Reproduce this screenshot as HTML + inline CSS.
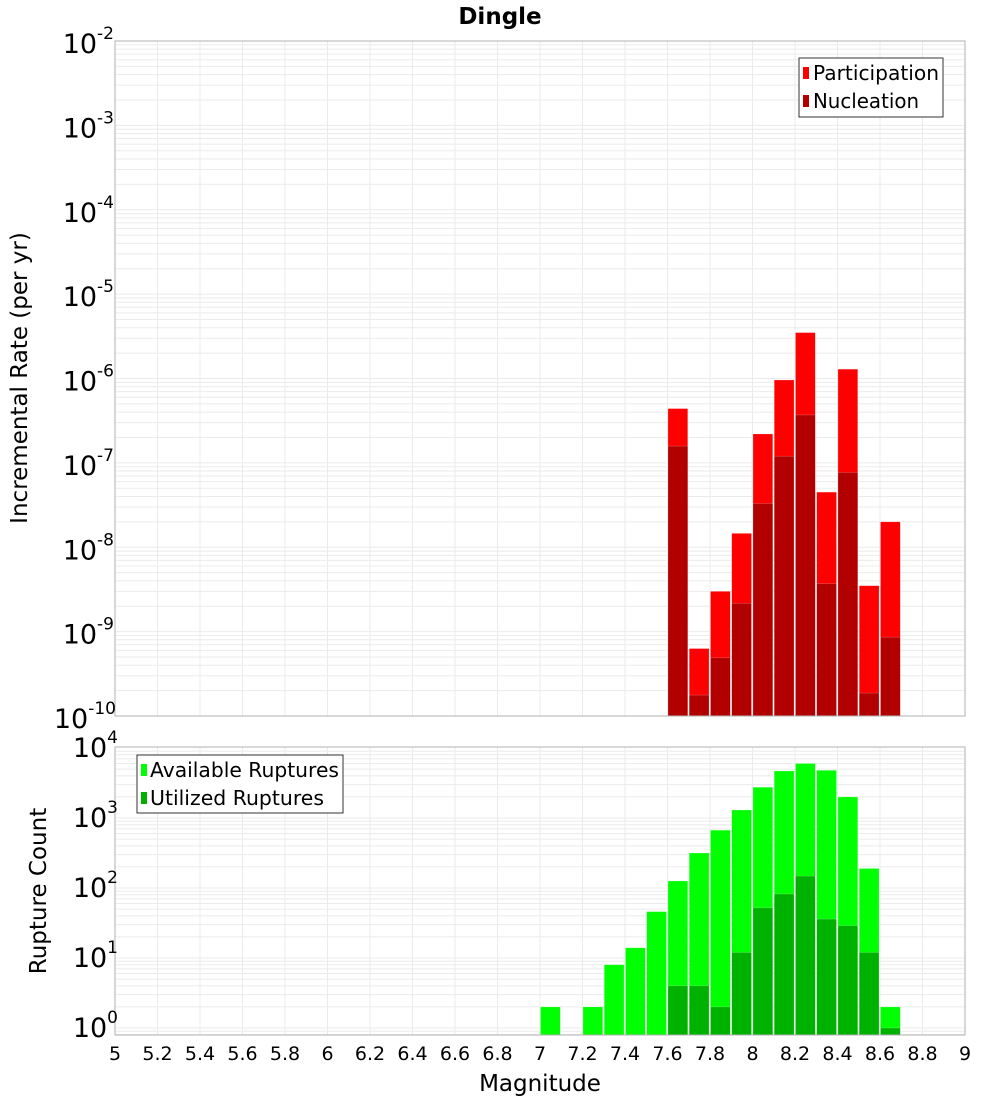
<!DOCTYPE html>
<html><head><meta charset="utf-8"><style>
body{margin:0;background:#fff;}
svg text{font-family:"DejaVu Sans","Liberation Sans",sans-serif;}
</style></head><body>
<svg id="chart" width="1000" height="1100" xmlns="http://www.w3.org/2000/svg">
<rect width="1000" height="1100" fill="#fff"/>
<text x="500" y="24" text-anchor="middle" font-size="23" font-weight="bold">Dingle</text>
<g id="topPlot"></g>
<g id="botPlot"></g>
<text transform="translate(27,378) rotate(-90)" text-anchor="middle" font-size="23">Incremental Rate (per yr)</text>
<text transform="translate(46,891) rotate(-90)" text-anchor="middle" font-size="23">Rupture Count</text>
<text x="540" y="1091" text-anchor="middle" font-size="23">Magnitude</text>
<g>
<rect x="799" y="58" width="144" height="59" fill="#fff" stroke="#333"/>
<rect x="803" y="67" width="6" height="12" fill="#ff0000"/>
<text x="813" y="80" font-size="20" textLength="126" lengthAdjust="spacingAndGlyphs">Participation</text>
<rect x="803" y="95" width="6" height="12" fill="#b20000"/>
<text x="813" y="108" font-size="20" textLength="106" lengthAdjust="spacingAndGlyphs">Nucleation</text>
</g>
<g>
<rect x="137" y="755" width="206" height="58" fill="#fff" stroke="#333"/>
<rect x="141" y="764" width="6" height="12" fill="#00ff00"/>
<text x="150" y="777" font-size="20" textLength="189" lengthAdjust="spacingAndGlyphs">Available Ruptures</text>
<rect x="141" y="792" width="6" height="12" fill="#00b200"/>
<text x="150" y="805" font-size="20" textLength="174" lengthAdjust="spacingAndGlyphs">Utilized Ruptures</text>
</g>
</svg>
<script>
const mags = [7.6,7.7,7.8,7.9,8.0,8.1,8.2,8.3,8.4,8.5,8.6];
const participation = [4.4e-7,6.3e-10,3.0e-9,1.46e-8,2.2e-7,9.6e-7,3.5e-6,4.5e-8,1.29e-6,3.5e-9,2.0e-8];
const nucleation = [1.58e-7,1.77e-10,4.9e-10,2.16e-9,3.3e-8,1.2e-7,3.7e-7,3.7e-9,7.7e-8,1.87e-10,8.6e-10];
const countMags = [7.0,7.2,7.3,7.4,7.5,7.6,7.7,7.8,7.9,8.0,8.1,8.2,8.3,8.4,8.5,8.6];
const available = [2,2,8,14,46,126,316,670,1300,2750,4700,6000,4800,2000,190,2];
const utilized = [0,0,0,0,0,4,4,2,12,52,82,148,36,29,12,1];
const xTicks = ["5","5.2","5.4","5.6","5.8","6","6.2","6.4","6.6","6.8","7","7.2","7.4","7.6","7.8","8","8.2","8.4","8.6","8.8","9"];
const topExps = [-2,-3,-4,-5,-6,-7,-8,-9,-10];
const botExps = [4,3,2,1,0];

const NS="http://www.w3.org/2000/svg";
const X0=115,X1=965;
const xs = m => X0 + (m-5)/4*(X1-X0);
const T0=41,T1=716;
const yTop = v => T1 - (Math.log10(v)+10)*(T1-T0)/8;
const B0=747,B1=1035;
const yBot = v => 1028 - Math.log10(v)*70;
function mk(parent,tag,attrs){const e=document.createElementNS(NS,tag);for(const k in attrs)e.setAttribute(k,attrs[k]);parent.appendChild(e);return e;}
function grid(g,yf,y0,y1,emin,emax){
  for(let e=emin;e<=emax;e++){for(let k=1;k<10;k++){const y=yf(k*Math.pow(10,e));if(y<y0-0.5||y>y1+0.5)continue;
    const l=mk(g,'line',{x1:X0,x2:X1,y1:y,y2:y,stroke:'#ebebeb','stroke-width':1});
    
    }}
  for(let i=0;i<xTicks.length;i++){const x=xs(parseFloat(xTicks[i]));
    const l=mk(g,'line',{x1:x,x2:x,y1:y0,y2:y1,stroke:'#ebebeb','stroke-width':1});
    
    }
}
function bar(g,m,v,yf,base,fill,name){const x=xs(m)+0.5,w=xs(m+0.1)-xs(m)-1.5;const y=yf(v);
  const r=mk(g,'rect',{x:x,y:y,width:w,height:base-y,fill:fill,stroke:'rgba(255,255,255,0.35)','stroke-width':0.5});
  
  }
function yLabel(parent,x,y,exp,name){const t=mk(parent,'text',{x:x,y:y,'font-size':27,'text-anchor':'end'});
  
  
  t.textContent='10';const s=mk(t,'tspan',{dy:-14,'font-size':17});s.textContent=String(exp);}

const topG=document.getElementById('topPlot');
grid(topG,yTop,T0,T1,-10,-3);
for(let i=0;i<mags.length;i++){bar(topG,mags[i],participation[i],yTop,T1,'#ff0000','participation-bar');}
for(let i=0;i<mags.length;i++){bar(topG,mags[i],nucleation[i],yTop,T1,'#b20000','nucleation-bar');}
mk(topG,'rect',{x:X0,y:T0,width:X1-X0,height:T1-T0,fill:'none',stroke:'#b0b0b0'});
topExps.forEach(e=>{yLabel(topG,e===-10?116:114,yTop(Math.pow(10,e))+12,e,'top-y-tick-label');});

const botG=document.getElementById('botPlot');
grid(botG,yBot,B0,B1,-1,3);
for(let i=0;i<countMags.length;i++){bar(botG,countMags[i],available[i],yBot,B1,'#00ff00','available-bar');}
for(let i=0;i<countMags.length;i++){if(utilized[i]>0)bar(botG,countMags[i],utilized[i],yBot,B1,'#00b200','utilized-bar');}
mk(botG,'rect',{x:X0,y:B0,width:X1-X0,height:B1-B0,fill:'none',stroke:'#b0b0b0'});
botExps.forEach(e=>{yLabel(botG,118,yBot(Math.pow(10,e))+9,e,'bottom-y-tick-label');});
xTicks.forEach(t=>{const x=xs(parseFloat(t));const l=mk(botG,'text',{x:x,y:1060,'font-size':19,'text-anchor':'middle'});
  
  
  l.textContent=t;});
</script>
</body></html>
